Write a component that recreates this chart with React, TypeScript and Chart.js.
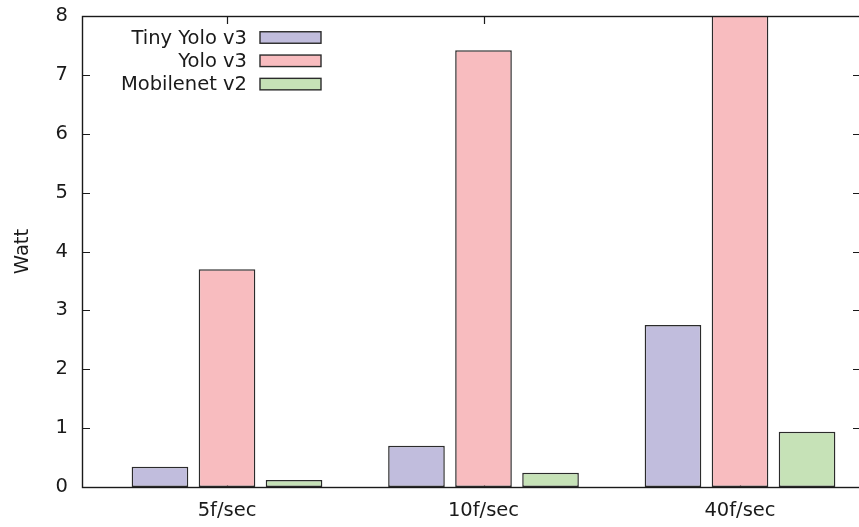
import React, { useEffect, useRef } from 'react';
import { Chart, registerables } from 'chart.js';
Chart.register(...registerables);

const categories = ['5f/sec', '10f/sec', '40f/sec'];
const seriesNames = ['Tiny Yolo v3', 'Yolo v3', 'Mobilenet v2'];
const tinyYolo = [0.345, 0.7, 2.75];
const yolo = [3.7, 7.42, 8.6];
const mobilenet = [0.12, 0.24, 0.94];
const yTicks = [0, 1, 2, 3, 4, 5, 6, 7, 8];
const yTitle = 'Watt';

const fills = ['#c1bddd', '#f8bcbf', '#c6e2b7'];
const INK = '#1a1a1a';
const EDGE = '#2b2b2b';
const FAMILY = '"DejaVu Sans", sans-serif';
const FS = 19.5;
const FONT = `${FS}px ${FAMILY}`;

const decor = {
  id: 'decor',
  beforeDatasetsDraw(chart: any) {
    const { ctx, chartArea: a, scales } = chart;
    const x = scales.x, y = scales.y;
    ctx.save();
    ctx.strokeStyle = INK;
    ctx.lineWidth = 1.2;
    ctx.beginPath();
    yTicks.forEach((v) => {
      const py = Math.round(y.getPixelForValue(v)) + 0.5;
      ctx.moveTo(a.left, py);
      ctx.lineTo(a.left + 8, py);
      ctx.moveTo(a.right, py);
      ctx.lineTo(a.right - 8, py);
    });
    categories.forEach((_, i) => {
      const px = Math.round(x.getPixelForValue(i)) + 0.5;
      ctx.moveTo(px, a.bottom);
      ctx.lineTo(px, a.bottom - 8);
      ctx.moveTo(px, a.top);
      ctx.lineTo(px, a.top + 8);
    });
    ctx.stroke();
    ctx.restore();
  },
  afterDatasetsDraw(chart: any) {
    const { ctx, chartArea: a } = chart;
    ctx.save();
    // frame
    ctx.strokeStyle = INK;
    ctx.lineWidth = 1.4;
    ctx.strokeRect(Math.round(a.left) + 0.5, Math.round(a.top) + 0.5, a.right - a.left, a.bottom - a.top);
    // legend
    ctx.font = FONT;
    ctx.textAlign = 'right';
    ctx.textBaseline = 'middle';
    seriesNames.forEach((name, i) => {
      const cy = a.top + 21.5 + i * 23.3;
      ctx.fillStyle = INK;
      ctx.fillText(name, a.left + 165, cy + 1);
      const bx = a.left + 178, bw = 61, bh = 11.5;
      ctx.fillStyle = fills[i];
      ctx.fillRect(bx, cy - bh / 2, bw, bh);
      ctx.strokeStyle = EDGE;
      ctx.lineWidth = 1.4;
      ctx.strokeRect(bx, cy - bh / 2, bw, bh);
    });
    // y title
    ctx.translate(28, (a.top + a.bottom) / 2);
    ctx.rotate(-Math.PI / 2);
    ctx.textAlign = 'center';
    ctx.textBaseline = 'alphabetic';
    ctx.fillStyle = INK;
    ctx.fillText(yTitle, 0, 0);
    ctx.restore();
  },
};

export default function App() {
  const ref = useRef<HTMLCanvasElement>(null);
  useEffect(() => {
    if (!ref.current) return;
    const series = [tinyYolo, yolo, mobilenet];
    const chart = new Chart(ref.current, {
      type: 'bar',
      data: {
        datasets: series.map((vals, s) => ({
          label: seriesNames[s],
          data: vals.map((v, i) => ({ x: i, y: v })),
          backgroundColor: fills[s],
          borderColor: EDGE,
          borderWidth: 1.5,
          borderSkipped: false,
          categoryPercentage: 0.784,
          barPercentage: 0.845,
        })),
      },
      options: {
        animation: false,
        responsive: false,
        layout: { padding: { left: 0, top: 16, right: 9, bottom: 0 } },
        plugins: { legend: { display: false }, tooltip: { enabled: false } },
        scales: {
          x: {
            type: 'linear',
            offset: false,
            min: -0.5653,
            max: 2.4717,
            grid: { display: false, drawTicks: false, offset: false },
            border: { display: false },
            afterBuildTicks: (s: any) => {
              s.ticks = categories.map((_, i) => ({ value: i }));
            },
            afterFit: (s: any) => {
              s.height = 40;
              s.paddingLeft = 0;
              s.paddingRight = 0;
            },
            ticks: {
              autoSkip: false,
              maxRotation: 0,
              padding: 12,
              color: INK,
              font: { family: FAMILY, size: FS },
              callback: (v: any) => categories[v] ?? '',
            },
          },
          y: {
            min: 0,
            max: 8,
            grid: { display: false, drawTicks: false },
            border: { display: false },
            afterFit: (s: any) => {
              s.width = 82;
              s.paddingTop = 0;
              s.paddingBottom = 0;
            },
            ticks: {
              stepSize: 1,
              padding: 14,
              color: INK,
              font: { family: FAMILY, size: FS },
            },
          },
        },
      },
      plugins: [decor],
    } as any);
    return () => chart.destroy();
  }, []);
  return (
    <div style={{ position: 'absolute', left: 0, top: 0, width: 859, height: 527, overflow: 'hidden', background: '#fff' }}>
      <canvas ref={ref} width={870} height={527} style={{ display: 'block' }} />
    </div>
  );
}
